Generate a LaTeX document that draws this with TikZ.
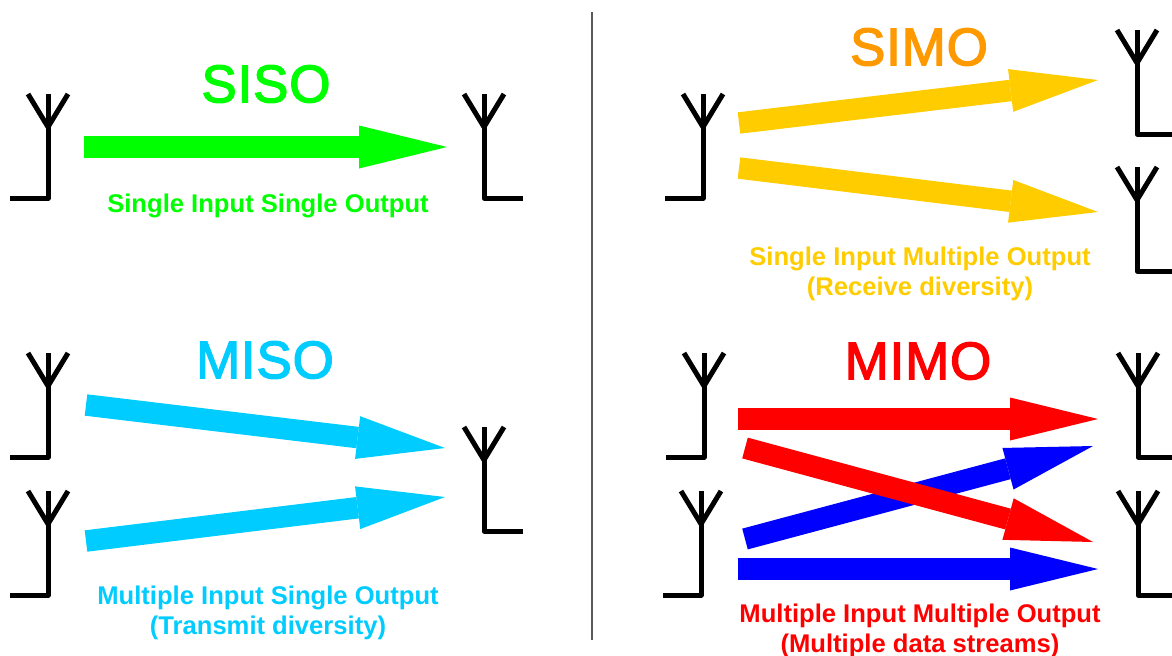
\documentclass[tikz,border=0pt]{standalone}
\usepackage{fontspec}
\usepackage{xcolor}
\usetikzlibrary{arrows.meta}
\setmainfont{Liberation Sans}
\newfontfamily\headingfont[FakeBold=2.5, LetterSpace=1.5]{Liberation Sans}
\definecolor{sisogreen}{HTML}{00FF00}
\definecolor{simoyellow}{HTML}{FFCC00}
\definecolor{simoorange}{HTML}{FF9900}
\definecolor{misocyan}{HTML}{00CCFF}
\tikzset{
    antenna/.pic={
        \draw[black, line width=2.5pt, line join=round] (-20,0) -- (0,33) -- (20,0);
        \draw[black, line width=2.5pt, line join=round] (0,0) -- (0,104) -- (-38.5,104);
    },
    beam/.style={line width=10.75pt, -{Triangle[length=44pt, width=21.5pt, line width=0pt]}},
    heading/.style={font=\headingfont\fontsize{26.5}{30}\selectfont},
    caption/.style={font=\fontsize{12.8}{15}\selectfont\bfseries, align=center}
}

\begin{document}
\begin{tikzpicture}[x=0.5pt, y=-0.5pt]
            \clip (0,0) rectangle (1172,655);
            \draw[black!65, line width=1pt](592,12) -- (592,640);
            % antennas
            \path (48,94) pic {antenna};
            \path (484,94) pic[xscale=-1] {antenna};
            \path (703,94) pic {antenna};
            \path (1137,30) pic[xscale=-1] {antenna};
            \path (1137,167) pic[xscale=-1] {antenna};
            \path (48,353) pic {antenna};
            \path (48,491) pic {antenna};
            \path (484,427) pic[xscale=-1] {antenna};
            \path (704,353) pic {antenna};
            \path (701,491) pic {antenna};
            \path (1138,353) pic[xscale=-1] {antenna};
            \path (1138,491) pic[xscale=-1] {antenna};
            % arrow ends
            \coordinate (sisoin) at (84,147);
            \coordinate (sisoout) at (447,147);
            \coordinate (simoin1) at (739,123);
            \coordinate (simoout1) at (1098,80);
            \coordinate (simoin2) at (739,168);
            \coordinate (simoout2) at (1098,212);
            \coordinate (misoin1) at (86,405);
            \coordinate (misoout1) at (445,448);
            \coordinate (misoin2) at (86,541);
            \coordinate (misoout2) at (445,497);
            \coordinate (mimoin1) at (738,419);
            \coordinate (mimoout1) at (1098,419);
            \coordinate (mimoin2) at (745,448);
            \coordinate (mimoout2) at (1093,542);
            \coordinate (mimoin3) at (745,539);
            \coordinate (mimoout3) at (1093,446);
            \coordinate (mimoin4) at (738,569);
            \coordinate (mimoout4) at (1098,569);
            % arrows
            \draw[beam, sisogreen](sisoin) -- (sisoout);
            \draw[beam, simoyellow](simoin1) -- (simoout1);
            \draw[beam, simoyellow](simoin2) -- (simoout2);
            \draw[beam, misocyan](misoin1) -- (misoout1);
            \draw[beam, misocyan](misoin2) -- (misoout2);
            \draw[beam, blue](mimoin3) -- (mimoout3);
            \draw[beam, blue](mimoin4) -- (mimoout4);
            \draw[beam, red](mimoin1) -- (mimoout1);
            \draw[beam, red](mimoin2) -- (mimoout2);
            % labels
            \node[heading, sisogreen] (sisotitle) at (266,84) {SISO};
            \node[heading, simoorange] (simotitle) at (919,47) {SIMO};
            \node[heading, misocyan] (misotitle) at (265,360) {MISO};
            \node[heading, red] (mimotitle) at (918,361) {MIMO};
            \node[caption, sisogreen] (sisotext) at (268,205.5) {Single Input Single Output};
            \node[caption, simoyellow] (simotext) at (920,273.5) {Single Input Multiple Output\\(Receive diversity)};
            \node[caption, misocyan] (misotext) at (268,612.5) {Multiple Input Single Output\\(Transmit diversity)};
            \node[caption, red] (mimotext) at (920,630.5) {Multiple Input Multiple Output\\(Multiple data streams)};
\end{tikzpicture}
\end{document}
